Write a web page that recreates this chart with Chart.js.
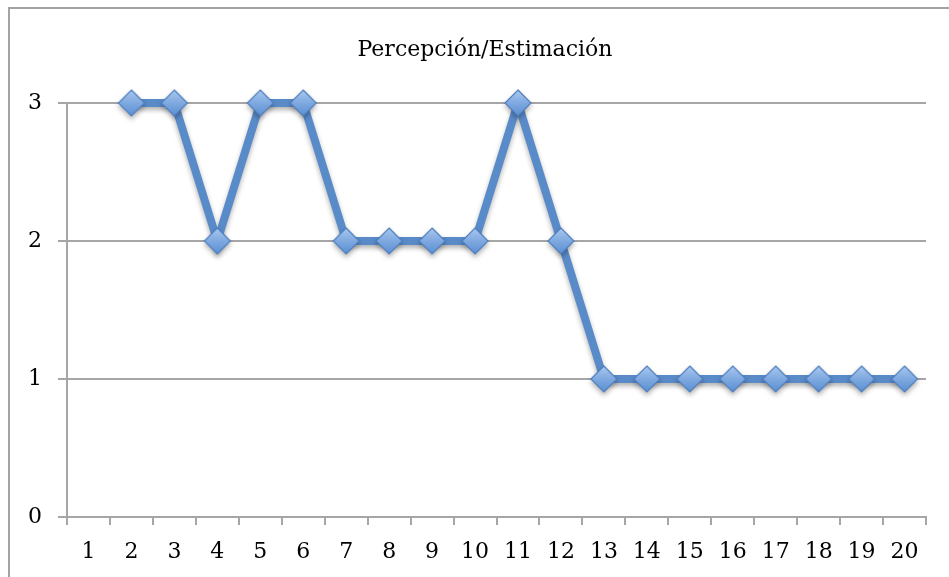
<!DOCTYPE html>
<html>
<head>
<meta charset="utf-8">
<script src="https://cdn.jsdelivr.net/npm/chart.js@4/dist/chart.umd.min.js"></script>
<style>
    body { margin: 0; background: #ffffff; overflow: hidden; }
    #wrap { position: relative; width: 949px; height: 577px; }
    #frame {
        position: absolute; left: 8px; top: 7px; width: 1200px; height: 800px;
        border-left: 2px solid #a3a3a3; border-top: 2px solid #a3a3a3;
    }
    #chart { position: absolute; left: 0; top: 0; }
</style>
</head>
<body>
<div id="wrap">
    <div id="frame"></div>
    <canvas id="chart" width="949" height="577"></canvas>
</div>
<script>
const chartTitle = "Percepción/Estimación";
const categories = ["1", "2", "3", "4", "5", "6", "7", "8", "9", "10",
    "11", "12", "13", "14", "15", "16", "17", "18", "19", "20"];
const values = [null, 3, 3, 2, 3, 3, 2, 2, 2, 2, 3, 2, 1, 1, 1, 1, 1, 1, 1, 1];
const yTicks = [0, 1, 2, 3];

const serif = "'DejaVu Serif', 'Liberation Serif', serif";
const gridColor = "#a6a6a6";

// diamond marker with a soft blue gradient, like the office charts
function makeDiamond(r) {
    const c = document.createElement("canvas");
    const s = r * 2 + 4;
    c.width = s;
    c.height = s;
    const g = c.getContext("2d");
    const m = s / 2;
    const grad = g.createLinearGradient(0, m - r, 0, m + r);
    grad.addColorStop(0, "#a9c8ef");
    grad.addColorStop(0.5, "#7fa9e0");
    grad.addColorStop(1, "#5a8fd2");
    g.beginPath();
    g.moveTo(m, m - r);
    g.lineTo(m + r, m);
    g.lineTo(m, m + r);
    g.lineTo(m - r, m);
    g.closePath();
    g.fillStyle = grad;
    g.fill();
    g.lineWidth = 1.2;
    g.strokeStyle = "#4f7fbf";
    g.stroke();
    return c;
}

const shadowPlugin = {
    id: "shadow",
    beforeDatasetDraw(chart) {
        const ctx = chart.ctx;
        ctx.save();
        ctx.shadowColor = "rgba(0,0,0,0.3)";
        ctx.shadowBlur = 5;
        ctx.shadowOffsetY = 3;
    },
    afterDatasetDraw(chart) {
        chart.ctx.restore();
    }
};

// title sits a bit left of the plot centre in the original, so it is drawn by hand
const titlePlugin = {
    id: "manualTitle",
    afterDraw(chart) {
        const ctx = chart.ctx;
        ctx.save();
        ctx.font = "22px " + serif;
        ctx.fillStyle = "#000000";
        ctx.textAlign = "center";
        ctx.textBaseline = "middle";
        ctx.fillText(chartTitle, 485, 50);
        ctx.restore();
    }
};

new Chart(document.getElementById("chart"), {
    type: "line",
    data: {
        labels: categories,
        datasets: [{
            data: values,
            borderColor: "#5a8bc9",
            borderWidth: 8,
            pointStyle: makeDiamond(13),
            pointRadius: 13,
            pointHoverRadius: 13,
            tension: 0,
            spanGaps: false,
            clip: false
        }]
    },
    options: {
        responsive: false,
        animation: false,
        layout: { padding: { left: 0, right: 23, top: 103, bottom: 0 } },
        plugins: {
            legend: { display: false },
            tooltip: { enabled: false },
            title: { display: false }
        },
        scales: {
            x: {
                offset: true,
                grid: {
                    offset: true,
                    drawOnChartArea: false,
                    drawTicks: true,
                    tickLength: 8,
                    color: gridColor,
                    lineWidth: 2
                },
                border: { color: gridColor, width: 2 },
                ticks: {
                    color: "#000000",
                    font: { family: serif, size: 22 },
                    padding: 14,
                    maxRotation: 0,
                    autoSkip: false
                },
                afterFit(scale) { scale.height = 60; }
            },
            y: {
                min: yTicks[0],
                max: yTicks[yTicks.length - 1],
                grid: {
                    color: gridColor,
                    lineWidth: 2,
                    tickLength: 9
                },
                border: { color: gridColor, width: 2 },
                ticks: {
                    stepSize: 1,
                    color: "#000000",
                    font: { family: serif, size: 22 },
                    padding: 16
                },
                afterFit(scale) { scale.width = 67; }
            }
        }
    },
    plugins: [shadowPlugin, titlePlugin]
});
</script>
</body>
</html>
